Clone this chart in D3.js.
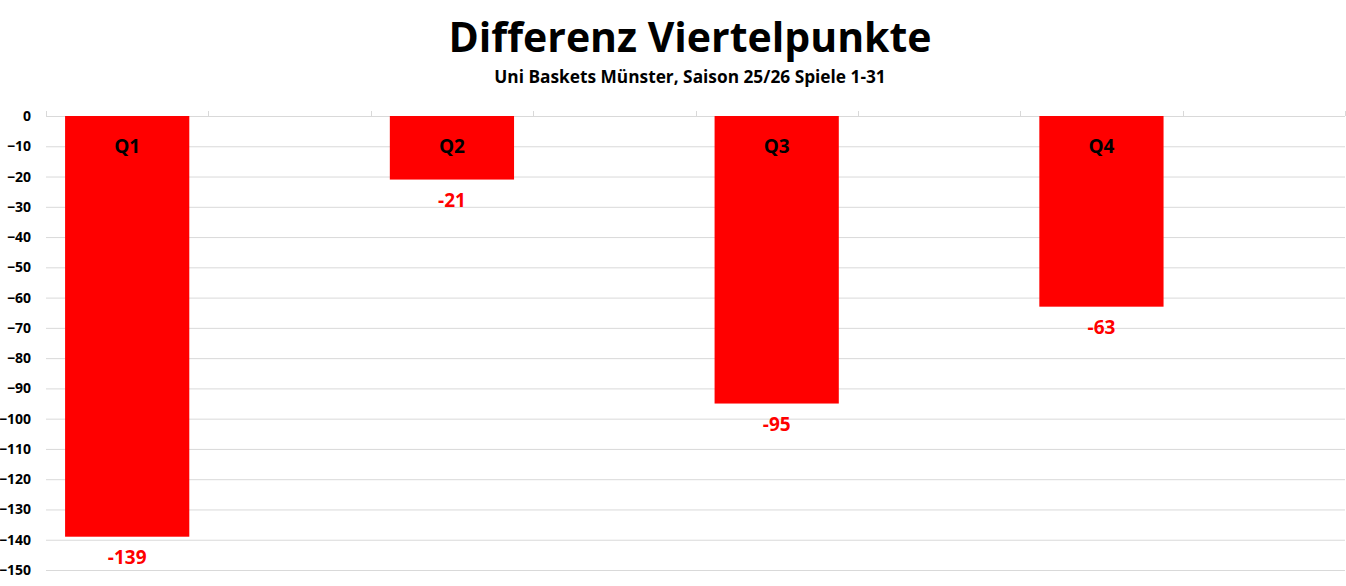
<!DOCTYPE html>
<html>
<head>
<meta charset="utf-8">
<script src="https://cdn.jsdelivr.net/npm/d3@7"></script>
<style>
  body { margin: 0; background: #fff; }
  svg { display: block; font-family: "Open Sans", "Liberation Sans", sans-serif; }
</style>
</head>
<body>
<svg id="chart"></svg>
<script>
'use strict';

// Excel layout has 8 category slots, every second one empty
var slots = ["Q1", "", "Q2", "", "Q3", "", "Q4", ""];
var values = [-139, null, -21, null, -95, null, -63, null];
var yTicks = [0, -10, -20, -30, -40, -50, -60, -70, -80, -90, -100, -110, -120, -130, -140, -150];

var title = "Differenz Viertelpunkte";
var subtitle = "Uni Baskets Münster, Saison 25/26 Spiele 1-31";

var svgWidth = 1346,
    svgHeight = 586;
var margin = { top: 116, right: 1, bottom: 16, left: 46 };
var width = svgWidth - margin.left - margin.right;
var height = svgHeight - margin.top - margin.bottom;

var svg = d3.select('#chart')
    .attr("width", svgWidth)
    .attr("height", svgHeight);

svg.append("text")
    .attr("x", 690)
    .attr("y", 52)
    .attr("text-anchor", "middle")
    .attr("font-size", 41)
    .attr("font-weight", "bold")
    .attr("fill", "#000")
    .text(title);

svg.append("text")
    .attr("x", 690)
    .attr("y", 83)
    .attr("text-anchor", "middle")
    .attr("font-size", 17.3)
    .attr("font-weight", "bold")
    .attr("fill", "#000")
    .text(subtitle);

var g = svg.append("g")
    .attr("transform", "translate(" + margin.left + "," + margin.top + ")");

var x = d3.scaleBand()
    .domain(d3.range(slots.length))
    .range([0, width])
    .paddingInner(0.235)
    .paddingOuter(0.1175);

var y = d3.scaleLinear()
    .domain([-150, 0])
    .range([height, 0]);

// gridlines
g.append("g")
    .attr("class", "grid")
    .selectAll("line")
    .data(yTicks)
    .join("line")
    .attr("x1", 0)
    .attr("x2", width)
    .attr("y1", function (d) { return y(d) + 0.5 })
    .attr("y2", function (d) { return y(d) + 0.5 })
    .attr("stroke", "#d9d9d9")
    .attr("stroke-width", 1);

// y axis labels
g.append("g")
    .attr("class", "axis y")
    .call(d3.axisLeft(y).tickValues(yTicks).tickSize(0).tickPadding(15))
    .call(function (s) { s.select(".domain").remove() })
    .selectAll("text")
    .attr("font-size", 14)
    .attr("font-weight", "bold")
    .attr("fill", "#000")
    .attr("font-family", "\"Open Sans\", sans-serif");

// category tick marks on the zero line
var bounds = d3.range(slots.length + 1).map(function (i) { return i * x.step() });
g.append("g")
    .selectAll("line")
    .data(bounds)
    .join("line")
    .attr("x1", function (d) { return Math.round(d) + 0.5 })
    .attr("x2", function (d) { return Math.round(d) + 0.5 })
    .attr("y1", y(0) - 5)
    .attr("y2", y(0))
    .attr("stroke", "#d9d9d9");

var barData = slots.map(function (s, i) { return { i: i, name: s, value: values[i] } })
    .filter(function (d) { return d.value !== null });

g.append("g")
    .selectAll("rect")
    .data(barData)
    .join("rect")
    .attr("x", function (d) { return x(d.i) })
    .attr("width", x.bandwidth())
    .attr("y", y(0))
    .attr("height", function (d) { return y(d.value) - y(0) })
    .attr("fill", "#ff0000");

// category labels inside the bars
g.append("g")
    .selectAll("text")
    .data(barData)
    .join("text")
    .attr("x", function (d) { return x(d.i) + x.bandwidth() / 2 })
    .attr("y", y(0) + 37)
    .attr("text-anchor", "middle")
    .attr("font-size", 19)
    .attr("font-weight", "bold")
    .attr("fill", "#000")
    .text(function (d) { return d.name });

// value labels below bars
g.append("g")
    .selectAll("text")
    .data(barData)
    .join("text")
    .attr("x", function (d) { return x(d.i) + x.bandwidth() / 2 })
    .attr("y", function (d) { return y(d.value) + 27 })
    .attr("text-anchor", "middle")
    .attr("font-size", 19)
    .attr("font-weight", "bold")
    .attr("fill", "#ff0000")
    .text(function (d) { return d.value });
</script>
</body>
</html>
